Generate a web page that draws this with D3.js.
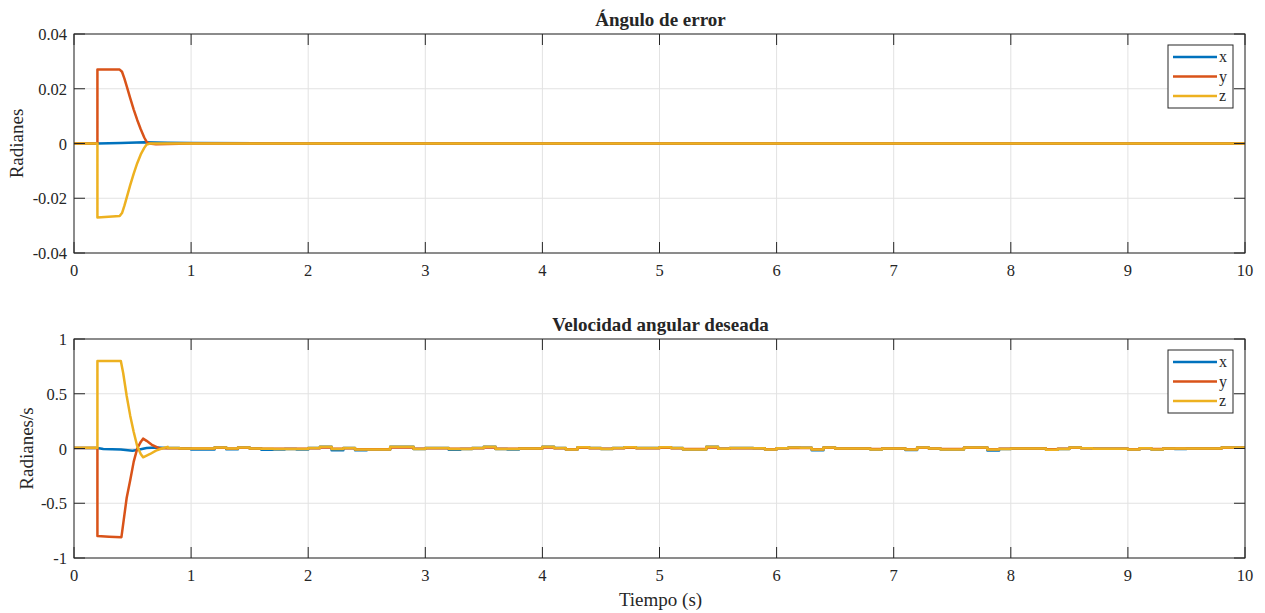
<!DOCTYPE html>
<html>
<head>
<meta charset="utf-8">
<script src="https://cdn.jsdelivr.net/npm/d3@7"></script>
<style>
  body { margin: 0; background: #fff; }
</style>
</head>
<body>
<svg id="chart" width="1265" height="613"></svg>
<script>
// colours of the three components
var colX = "#0072BD", colY = "#D95319", colZ = "#EDB120";

var xTicks = [0, 1, 2, 3, 4, 5, 6, 7, 8, 9, 10];
var topTicks = [0.04, 0.02, 0, -0.02, -0.04];
var botTicks = [1, 0.5, 0, -0.5, -1];
var series = ["x", "y", "z"];

// error angle (rad): [time, value]
var errX = [[0, 0], [0.2, 0], [0.4, 0.0002], [0.6, 0.0005], [0.8, 0.0003], [1.0, 0.0002], [2, 0], [10, 0]];
var errY = [[0, 0], [0.2, 0], [0.2, 0.027], [0.39, 0.027], [0.41, 0.0262], [0.43, 0.0238], [0.45, 0.021],
            [0.48, 0.0166], [0.51, 0.0124], [0.54, 0.0086], [0.57, 0.0052], [0.6, 0.0022], [0.62, 0.0006],
            [0.64, 0], [0.7, -0.0003], [0.8, -0.0002], [1, 0], [10, 0]];
var errZ = [[0, 0], [0.2, 0], [0.2, -0.027], [0.39, -0.0265], [0.41, -0.0254], [0.43, -0.0228], [0.45, -0.0198],
            [0.48, -0.0152], [0.51, -0.011], [0.54, -0.0072], [0.57, -0.004], [0.6, -0.0016], [0.62, -0.0004],
            [0.65, 0], [10, 0]];

// desired angular velocity (rad/s), transient part
var velX0 = [[0, 0.005], [0.2, 0.005], [0.25, -0.005], [0.4, -0.01], [0.5, -0.02], [0.55, -0.012],
             [0.62, 0.004], [0.7, 0.01], [0.8, 0.005]];
var velY0 = [[0, 0.005], [0.2, 0.005], [0.2, -0.8], [0.3, -0.805], [0.405, -0.81], [0.425, -0.65],
             [0.45, -0.45], [0.48, -0.29], [0.51, -0.12], [0.54, 0], [0.57, 0.06], [0.59, 0.09],
             [0.62, 0.07], [0.67, 0.03], [0.73, 0], [0.8, 0.005]];
var velZ0 = [[0, 0.007], [0.2, 0.007], [0.2, 0.8], [0.4, 0.8], [0.42, 0.69], [0.45, 0.48], [0.48, 0.3],
             [0.51, 0.15], [0.54, 0.02], [0.57, -0.05], [0.59, -0.08], [0.65, -0.05], [0.7, -0.02],
             [0.75, 0], [0.8, 0.015]];

// held values every 0.1 s from t = 0.8 to 10.0 (z component)
var stepZ = [0.005, 0, 0, 0, 0.01, 0, 0.01, 0, -0.003, -0.005, -0.005, -0.005,
             0.005, 0.015, -0.005, 0.005, -0.01, -0.01, -0.01, 0.015, 0.015, -0.005,
             0.005, 0.005, -0.005, -0.005, 0.005, 0.015, -0.005, -0.005, 0, 0,
             0.015, 0.005, -0.01, 0.012, 0.005, -0.005, 0.005, 0.012, 0.005, 0.005,
             0.012, 0.005, -0.008, -0.008, 0.015, -0.003, 0.005, 0.005, 0.003, -0.01,
             0.003, 0.008, 0.007, -0.01, 0.01, 0, 0, 0, -0.008, 0, 0,
             -0.01, 0.01, 0, -0.008, -0.008, 0.01, 0.01, -0.01, -0.005, 0, 0,
             0, -0.012, -0.005, 0.01, 0.003, -0.003, -0.003, -0.003, -0.01, 0.003,
             -0.008, 0, 0, 0, 0, 0, 0.01, 0.01];
// x component differs from z in a few bins
var stepXoff = {2: -0.01, 3: -0.008, 5: -0.006, 8: -0.008, 9: -0.004, 11: -0.004, 14: -0.01,
                16: -0.006, 24: -0.006, 29: -0.004, 55: -0.006, 63: -0.004, 70: -0.008, 86: -0.004};

function expandSteps(start, vals, off) {
  var pts = [];
  vals.forEach(function (v, i) {
    var t0 = 0.8 + i * 0.1, t1 = Math.min(10, t0 + 0.1);
    var val = v + ((off && off[i]) || 0);
    pts.push([t0, val], [t1, val]);
  });
  return start.concat(pts);
}

var velX = expandSteps(velX0, stepZ, stepXoff);
var velY = expandSteps(velY0, stepZ.map(function (v) { return v * 0.6; }), null);
var velZ = expandSteps(velZ0, stepZ, null);

var font = "'Liberation Serif', 'Times New Roman', Times, 'DejaVu Serif', serif";
var svg = d3.select("#chart").attr("font-family", font);
var left = 74, right = 1245;
var ink = "#262626";

function panel(top, bottom, domain, ticks, title, ylabel, ylabX, data) {
  var x = d3.scaleLinear().domain([0, 10]).range([left, right]);
  var y = d3.scaleLinear().domain(domain).range([bottom, top]);
  var g = svg.append("g");

  // grid
  g.selectAll(".gx").data(xTicks).enter().append("line")
    .attr("x1", x).attr("x2", x).attr("y1", top).attr("y2", bottom)
    .attr("stroke", "#e2e2e2").attr("stroke-width", 1);
  g.selectAll(".gy").data(ticks).enter().append("line")
    .attr("x1", left).attr("x2", right).attr("y1", y).attr("y2", y)
    .attr("stroke", "#e2e2e2").attr("stroke-width", 1);

  // lines
  var line = d3.line().x(function (d) { return x(d[0]); }).y(function (d) { return y(d[1]); });
  var cols = [colX, colY, colZ];
  data.forEach(function (d, i) {
    g.append("path").datum(d).attr("d", line)
      .attr("fill", "none").attr("stroke", cols[i]).attr("stroke-width", 2.5)
      .attr("stroke-linejoin", "round");
  });

  // axes box with inward ticks on all sides
  var tl = 11;
  g.append("rect").attr("x", left).attr("y", top).attr("width", right - left).attr("height", bottom - top)
    .attr("fill", "none").attr("stroke", ink).attr("stroke-width", 1);
  xTicks.forEach(function (t) {
    g.append("line").attr("x1", x(t)).attr("x2", x(t)).attr("y1", bottom).attr("y2", bottom - tl).attr("stroke", ink);
    g.append("line").attr("x1", x(t)).attr("x2", x(t)).attr("y1", top).attr("y2", top + tl).attr("stroke", ink);
    g.append("text").attr("x", x(t)).attr("y", bottom + 23).attr("text-anchor", "middle")
      .attr("font-size", 16.5).attr("fill", ink).text(t);
  });
  ticks.forEach(function (t) {
    g.append("line").attr("x1", left).attr("x2", left + tl).attr("y1", y(t)).attr("y2", y(t)).attr("stroke", ink);
    g.append("line").attr("x1", right).attr("x2", right - tl).attr("y1", y(t)).attr("y2", y(t)).attr("stroke", ink);
    g.append("text").attr("x", left - 7).attr("y", y(t) + 6).attr("text-anchor", "end")
      .attr("font-size", 16.5).attr("fill", ink).text(String(t));
  });

  g.append("text").attr("x", (left + right) / 2 + 1).attr("y", top - 8).attr("text-anchor", "middle")
    .attr("font-size", 19).attr("font-weight", "bold").attr("fill", ink).text(title);
  g.append("text").attr("transform", "translate(" + ylabX + "," + ((top + bottom) / 2) + ") rotate(-90)")
    .attr("text-anchor", "middle").attr("font-size", 19).attr("fill", ink).text(ylabel);

  // legend
  var lx = 1168, ly = top + 11;
  g.append("rect").attr("x", lx).attr("y", ly).attr("width", 65).attr("height", 63)
    .attr("fill", "#fff").attr("stroke", ink).attr("stroke-width", 1);
  series.forEach(function (s, i) {
    var yy = ly + 12 + i * 19.5;
    g.append("line").attr("x1", lx + 5).attr("x2", lx + 49).attr("y1", yy).attr("y2", yy)
      .attr("stroke", cols[i]).attr("stroke-width", 2.5);
    g.append("text").attr("x", lx + 51).attr("y", yy + 5).attr("font-size", 16).attr("fill", ink).text(s);
  });
}

panel(34, 253, [-0.04, 0.04], topTicks, "Ángulo de error", "Radianes", 23, [errX, errY, errZ]);
panel(339, 558, [-1, 1], botTicks, "Velocidad angular deseada", "Radianes/s", 33, [velX, velY, velZ]);

svg.append("text").attr("x", (left + right) / 2 + 1).attr("y", 606).attr("text-anchor", "middle")
  .attr("font-size", 19).attr("fill", ink).text("Tiempo (s)");
</script>
</body>
</html>
